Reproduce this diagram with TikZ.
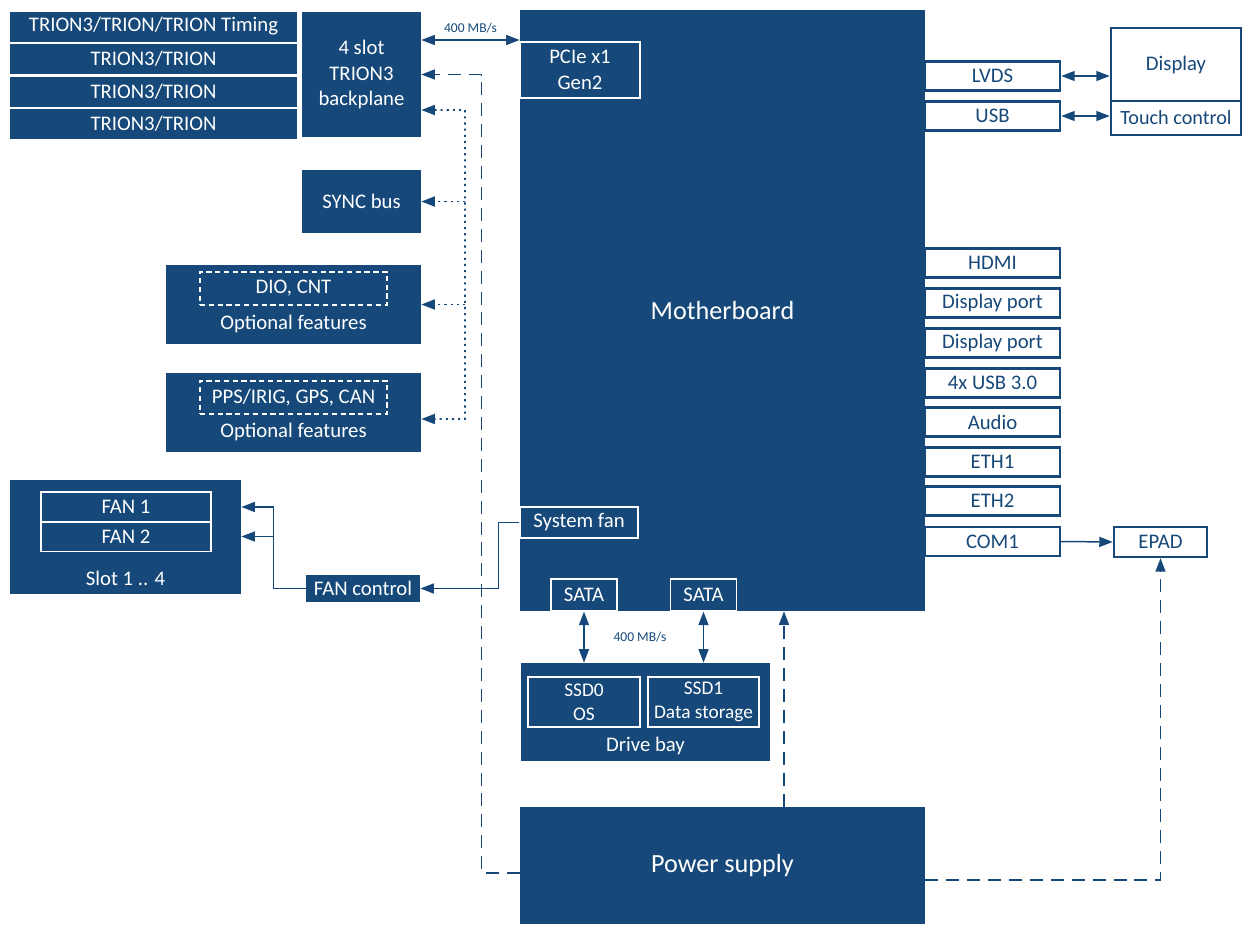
\documentclass[tikz,border=0pt]{standalone}
\usepackage{fontspec}
\setmainfont{Carlito}
\usetikzlibrary{arrows.meta,positioning}
\definecolor{dblue}{RGB}{22,73,122}
\newcommand{\lblfont}{\fontsize{11.8}{14.5}\selectfont}
\tikzset{
  blk/.style={rectangle, fill=dblue, text=white, inner sep=0pt, align=center, font=\lblfont},
  sub/.style={rectangle, draw=white, line width=0.8pt, text=white, inner sep=0pt, align=center, font=\lblfont},
  opt/.style={rectangle, draw=white, line width=0.6pt, dash pattern=on 3pt off 2pt, text=white, inner sep=0pt, font=\lblfont},
  port/.style={rectangle, draw=dblue, line width=1.4pt, fill=white, text=dblue, inner sep=0pt, font=\lblfont, minimum width=2.7cm, minimum height=0.58cm},
  arr/.style={draw=dblue, line width=0.85pt, -{Triangle[length=0.27cm,width=0.2cm]}},
  biarr/.style={draw=dblue, line width=0.85pt, {Triangle[length=0.27cm,width=0.2cm]}-{Triangle[length=0.27cm,width=0.2cm]}},
  pwr/.style={arr, dash pattern=on 7.4pt off 4.5pt},
  syn/.style={arr, line width=1pt, dash pattern=on 1.2pt off 2.3pt},
  rate/.style={text=dblue, font=\fontsize{7.7}{9}\selectfont}
}

\begin{document}
\begin{tikzpicture}
\useasboundingbox (0,0) rectangle (24.84,-18.5);

% TRION modules and backplane
\node[blk, minimum width=5.74cm, minimum height=0.6cm] (t1) at (3.07,-0.53) {TRION3/TRION/TRION Timing};
\node[blk, minimum width=5.74cm, minimum height=0.6cm] (t2) at (3.07,-1.18) {TRION3/TRION};
\node[blk, minimum width=5.74cm, minimum height=0.6cm] (t3) at (3.07,-1.83) {TRION3/TRION};
\node[blk, minimum width=5.74cm, minimum height=0.6cm] (t4) at (3.07,-2.48) {TRION3/TRION};
\node[blk, minimum width=2.38cm, minimum height=2.5cm] (bp) at (7.23,-1.49) {4 slot\\TRION3\\backplane};

\node[blk, minimum width=2.38cm, minimum height=1.26cm] (sync) at (7.23,-4.03) {SYNC bus};

\node[blk, minimum width=5.1cm, minimum height=1.58cm] (dio) at (5.87,-6.09) {};
\node[opt, minimum width=3.74cm, minimum height=0.66cm] (dioin) at (5.87,-5.77) {DIO, CNT};
\node[text=white, font=\lblfont] (diotxt) at (5.87,-6.48) {Optional features};

\node[blk, minimum width=5.1cm, minimum height=1.58cm] (pps) at (5.87,-8.25) {};
\node[opt, minimum width=3.74cm, minimum height=0.66cm] (ppsin) at (5.87,-7.95) {PPS/IRIG, GPS, CAN};
\node[text=white, font=\lblfont] (ppstxt) at (5.87,-8.64) {Optional features};

% fans
\node[blk, minimum width=4.62cm, minimum height=2.28cm] (slot) at (2.51,-10.74) {};
\node[sub, minimum width=3.4cm, minimum height=0.6cm] (fan1) at (2.52,-10.14) {FAN 1};
\node[sub, minimum width=3.4cm, minimum height=0.6cm] (fan2) at (2.52,-10.73) {FAN 2};
\node[text=white, font=\lblfont] (slottxt) at (2.51,-11.56) {Slot 1 .. 4};
\node[blk, minimum width=2.28cm, minimum height=0.54cm] (fanc) at (7.26,-11.77) {FAN control};

% motherboard
\node[blk, minimum width=8.1cm, minimum height=12.02cm, font=\fontsize{14.9}{18}\selectfont] (mb) at (14.45,-6.21) {Motherboard};
\node[sub, minimum width=2.4cm, minimum height=1.12cm] (pcie) at (11.6,-1.4) {PCIe x1\\Gen2};
\node[sub, minimum width=2.36cm, minimum height=0.62cm] (sysfan) at (11.58,-10.45) {System fan};
\node[sub, minimum width=1.32cm, minimum height=0.64cm] (sata1) at (11.68,-11.9) {SATA};
\node[sub, minimum width=1.32cm, minimum height=0.64cm] (sata2) at (14.07,-11.9) {SATA};

% ports
\node[port] (lvds) at (19.85,-1.52) {LVDS};
\node[port] (usb) at (19.85,-2.32) {USB};
\node[port] (hdmi) at (19.85,-5.26) {HDMI};
\node[port] (dp1) at (19.85,-6.06) {Display port};
\node[port] (dp2) at (19.85,-6.86) {Display port};
\node[port] (usb3) at (19.85,-7.66) {4x USB 3.0};
\node[port] (audio) at (19.85,-8.44) {Audio};
\node[port] (eth1) at (19.85,-9.24) {ETH1};
\node[port] (eth2) at (19.85,-10.02) {ETH2};
\node[port] (com1) at (19.85,-10.83) {COM1};

\node[port, minimum width=2.6cm, minimum height=1.46cm] (disp) at (23.52,-1.29) {Display};
\node[port, minimum width=2.6cm, minimum height=0.68cm, font=\fontsize{11.5}{14}\selectfont] (touch) at (23.52,-2.36) {Touch control};
\node[port, minimum width=1.86cm, minimum height=0.6cm] (epad) at (23.21,-10.84) {EPAD};

% drive bay and power
\node[blk, minimum width=4.98cm, minimum height=1.96cm] (bay) at (12.91,-14.24) {};
\node[sub, minimum width=2.24cm, minimum height=1cm, font=\fontsize{11}{13.5}\selectfont] (ssd0) at (11.68,-14.04) {SSD0\\OS};
\node[sub, minimum width=2.22cm, minimum height=1cm, font=\fontsize{11}{13.5}\selectfont] (ssd1) at (14.07,-14.04) {SSD1\\Data storage};
\node[text=white, font=\lblfont] (baytxt) at (12.91,-14.92) {Drive bay};
\node[blk, minimum width=8.1cm, minimum height=2.34cm, font=\fontsize{14.9}{18}\selectfont] (psu) at (14.45,-17.31) {Power supply};

% connectors
\draw[biarr] (bp.east |- 0,-0.8) -- node[rate, above] {400 MB/s} (mb.west |- 0,-0.8);
\draw[biarr] (lvds.east) -- (disp.west |- lvds);
\draw[biarr] (usb.east) -- (touch.west |- usb);
\draw[arr] (com1.east) -- (epad.west);
\draw[biarr] (sata1.south) -- (bay.north -| sata1);
\draw[biarr] (sata2.south) -- (bay.north -| sata2);
\node[rate] (satarate) at (12.8,-12.74) {400 MB/s};

\draw[arr] (fanc.west) -- ++(-0.64,0) coordinate (fj) |- (slot.east |- fan1);
\draw[arr] (fj |- fan2) -- (slot.east |- fan2);
\draw[arr] (sysfan.west) -- ++(-0.42,0) |- (fanc.east);

% sync bus
\coordinate (bustop) at (9.3,-2.2);
\coordinate (busbot) at (9.3,-8.38);
\draw[syn, {Triangle[length=0.27cm,width=0.2cm]}-{Triangle[length=0.27cm,width=0.2cm]}] ([yshift=-0.71cm]bp.east) -- (bustop) -- (busbot) -- ([yshift=-0.13cm]pps.east);
\draw[syn] (sync.east -| bustop) -- (sync.east);
\draw[syn] (dio.east -| bustop) -- (dio.east);

% power
\draw[pwr] ([yshift=-0.15cm]psu.west) -- ++(-0.76,0) |- (bp.east);
\draw[pwr] ([xshift=1.23cm]psu.north) -- ([xshift=1.23cm]mb.south);
\draw[pwr] ([yshift=-0.29cm]psu.east) -| (epad.south);
\end{tikzpicture}
\end{document}
